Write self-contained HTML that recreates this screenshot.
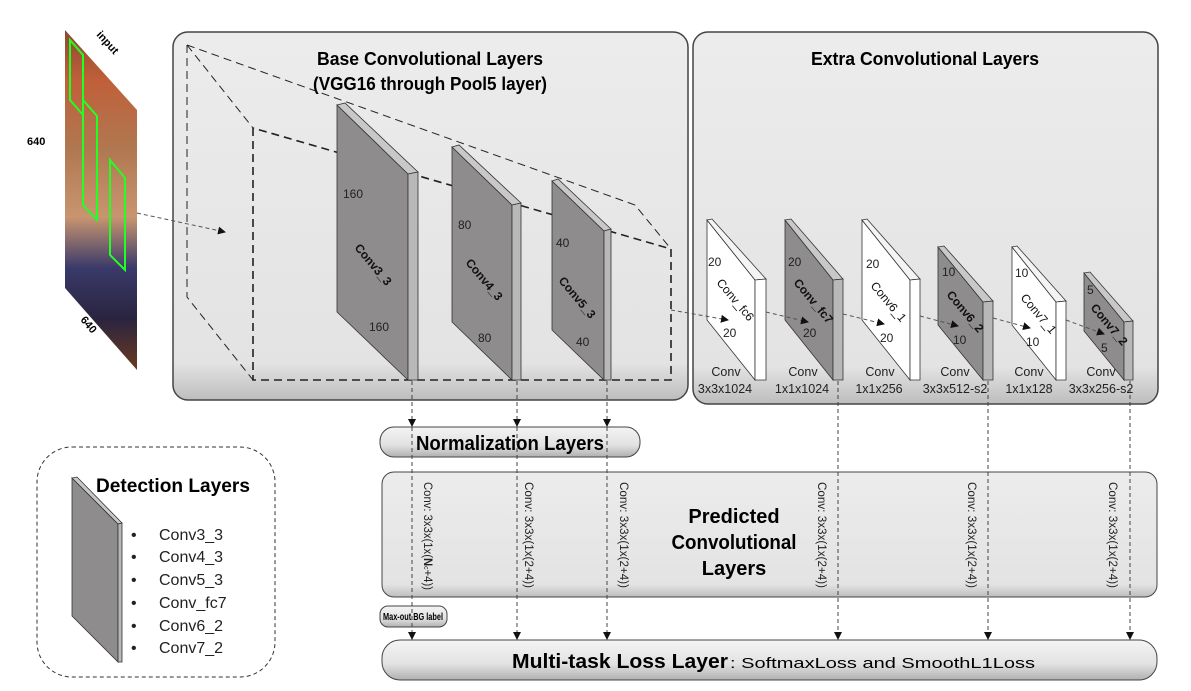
<!DOCTYPE html>
<html><head><meta charset="utf-8"><style>
html,body{margin:0;padding:0;background:#fff;}
svg{display:block;font-family:"Liberation Sans",sans-serif;}
.b{font-weight:bold;}
</style></head><body>
<svg width="1191" height="691" viewBox="0 0 1191 691" xmlns="http://www.w3.org/2000/svg">
<defs>
<linearGradient id="box" x1="0" y1="0" x2="0" y2="1">
<stop offset="0" stop-color="#ececec"/><stop offset="0.9" stop-color="#e3e3e3"/><stop offset="1" stop-color="#bdbdbd"/>
</linearGradient>
<linearGradient id="pill" x1="0" y1="0" x2="0" y2="1">
<stop offset="0" stop-color="#f4f4f4"/><stop offset="0.6" stop-color="#e2e2e2"/><stop offset="1" stop-color="#b0b0b0"/>
</linearGradient>
<linearGradient id="img" x1="0" y1="0" x2="0" y2="1">
<stop offset="0" stop-color="#8a4a30"/><stop offset="0.15" stop-color="#c0603a"/><stop offset="0.35" stop-color="#b07850"/>
<stop offset="0.55" stop-color="#c89570"/><stop offset="0.7" stop-color="#3a3a6a"/><stop offset="0.85" stop-color="#2a2440"/><stop offset="1" stop-color="#6a3a20"/>
</linearGradient>
<marker id="ar" markerWidth="8" markerHeight="8" refX="7" refY="4" orient="auto" markerUnits="userSpaceOnUse"><path d="M0,0 L8,4 L0,8 z" fill="#111"/></marker>
</defs>

<!-- input image -->
<polygon points="65,30 137,110 137,370 65,288" fill="url(#img)"/>
<polygon points="70,40 83,55 83,115 70,100" fill="none" stroke="#2f2" stroke-width="2"/>
<polygon points="83,100 97,116 97,220 83,205" fill="none" stroke="#2f2" stroke-width="2"/>
<polygon points="110,160 125,178 125,270 110,255" fill="none" stroke="#2f2" stroke-width="2"/>
<text x="0" y="0" font-size="11" class="b" transform="translate(96,35) rotate(48)">input</text>
<text x="27" y="145" font-size="11" class="b">640</text>
<text x="0" y="0" font-size="11" class="b" transform="translate(80,320) rotate(50)">640</text>

<!-- base box -->
<rect x="173" y="32" width="515" height="368" rx="15" fill="url(#box)" stroke="#444" stroke-width="1.5"/>
<text x="430" y="65" font-size="18" class="b" text-anchor="middle" textLength="226" lengthAdjust="spacingAndGlyphs">Base Convolutional Layers</text>
<text x="430" y="90" font-size="18" class="b" text-anchor="middle" textLength="234" lengthAdjust="spacingAndGlyphs">(VGG16 through Pool5 layer)</text>

<!-- extra box -->
<rect x="693" y="32" width="465" height="372" rx="15" fill="url(#box)" stroke="#444" stroke-width="1.5"/>
<text x="925" y="65" font-size="18" class="b" text-anchor="middle" textLength="228" lengthAdjust="spacingAndGlyphs">Extra Convolutional Layers</text>

<!-- dashed frustum -->
<g fill="none" stroke="#222" stroke-dasharray="8,5" stroke-width="1">
<polyline points="187,45 187,297 253,380"/>
<polyline points="187,45 253,128"/>
<polyline points="187,45 635,205 671,249"/>
<polyline points="253,128 253,380 671,380 671,249 253,128" stroke-width="1.6"/>
</g>
<line x1="137" y1="213" x2="225" y2="232" stroke="#555" stroke-dasharray="4,3" marker-end="url(#ar)"/>

<!-- base slabs -->
<g stroke="#333" stroke-width="0.8">
<polygon points="337,105 408,174 408,380 337,312" fill="#8e8c8c"/>
<polygon points="337,105 345,103 418,172 408,174" fill="#c8c8c8"/>
<polygon points="408,174 418,172 418,380 408,380" fill="#b8b8b8"/>
<polygon points="452,147 512,205 512,380 452,322" fill="#8e8c8c"/>
<polygon points="452,147 459,145 521,203 512,205" fill="#c8c8c8"/>
<polygon points="512,205 521,203 521,380 512,380" fill="#b8b8b8"/>
<polygon points="552,181 604,231 604,380 552,330" fill="#8e8c8c"/>
<polygon points="552,181 558,179 611,229 604,231" fill="#c8c8c8"/>
<polygon points="604,231 611,229 611,380 604,380" fill="#b8b8b8"/>
</g>
<g font-size="12" fill="#222">
<text x="343" y="198">160</text><text x="369" y="331">160</text>
<text x="458" y="229">80</text><text x="478" y="342">80</text>
<text x="556" y="247">40</text><text x="576" y="346">40</text>
</g>
<g font-size="12" class="b" fill="#111">
<text transform="translate(354,248) rotate(50)">Conv3_3</text>
<text transform="translate(465,263) rotate(50)">Conv4_3</text>
<text transform="translate(558,281) rotate(50)">Conv5_3</text>
</g>

<!-- extra slabs -->
<g stroke="#333" stroke-width="0.8">
<polygon points="707,220 755,280 755,380 707,320" fill="#fff"/>
<polygon points="707,220 712,219 766,279 755,280" fill="#f4f4f4"/>
<polygon points="755,280 766,279 766,380 755,380" fill="#fff"/>
<polygon points="785,220 833,280 833,380 785,320" fill="#8e8c8c"/>
<polygon points="785,220 791,219 843,279 833,280" fill="#c8c8c8"/>
<polygon points="833,280 843,279 843,380 833,380" fill="#b8b8b8"/>
<polygon points="862,220 910,280 910,380 862,320" fill="#fff"/>
<polygon points="862,220 867,219 920,279 910,280" fill="#f4f4f4"/>
<polygon points="910,280 920,279 920,380 910,380" fill="#fff"/>
<polygon points="938,247 983,302 983,380 938,325" fill="#8e8c8c"/>
<polygon points="938,247 944,246 993,301 983,302" fill="#c8c8c8"/>
<polygon points="983,302 993,301 993,380 983,380" fill="#b8b8b8"/>
<polygon points="1012,247 1056,302 1056,380 1012,325" fill="#fff"/>
<polygon points="1012,247 1017,246 1066,301 1056,302" fill="#f4f4f4"/>
<polygon points="1056,302 1066,301 1066,380 1056,380" fill="#fff"/>
<polygon points="1084,273 1124,322 1124,380 1084,331" fill="#8e8c8c"/>
<polygon points="1084,273 1090,272 1133,321 1124,322" fill="#c8c8c8"/>
<polygon points="1124,322 1133,321 1133,380 1124,380" fill="#b8b8b8"/>
</g>
<g font-size="12" fill="#222">
<text x="708" y="266">20</text><text x="723" y="337">20</text>
<text x="788" y="266">20</text><text x="803" y="337">20</text>
<text x="866" y="268">20</text><text x="880" y="342">20</text>
<text x="942" y="276">10</text><text x="953" y="344">10</text>
<text x="1015" y="277">10</text><text x="1026" y="346">10</text>
<text x="1087" y="294">5</text><text x="1101" y="352">5</text>
</g>
<g font-size="12" fill="#111">
<text transform="translate(716,283) rotate(50)">Conv_fc6</text>
<text transform="translate(793,283) rotate(50)" class="b">Conv_fc7</text>
<text transform="translate(870,286) rotate(50)">Conv6_1</text>
<text transform="translate(946,295) rotate(50)" class="b">Conv6_2</text>
<text transform="translate(1020,298) rotate(50)">Conv7_1</text>
<text transform="translate(1090,308) rotate(50)" class="b">Conv7_2</text>
</g>
<g fill="none" stroke="#555" stroke-dasharray="4,3">
<line x1="671" y1="310" x2="728" y2="320" marker-end="url(#ar)"/>
<line x1="766" y1="312" x2="808" y2="322" marker-end="url(#ar)"/>
<line x1="843" y1="314" x2="884" y2="324" marker-end="url(#ar)"/>
<line x1="920" y1="316" x2="958" y2="326" marker-end="url(#ar)"/>
<line x1="993" y1="318" x2="1030" y2="328" marker-end="url(#ar)"/>
<line x1="1066" y1="320" x2="1104" y2="334" marker-end="url(#ar)"/>
</g>
<g font-size="12.5" fill="#222" text-anchor="middle">
<text x="726" y="376">Conv</text><text x="725" y="393">3x3x1024</text>
<text x="803" y="376">Conv</text><text x="802" y="393">1x1x1024</text>
<text x="880" y="376">Conv</text><text x="879" y="393">1x1x256</text>
<text x="955" y="376">Conv</text><text x="955" y="393">3x3x512-s2</text>
<text x="1029" y="376">Conv</text><text x="1029" y="393">1x1x128</text>
<text x="1101" y="376">Conv</text><text x="1101" y="393">3x3x256-s2</text>
</g>

<!-- boxes bottom -->
<rect x="380" y="427" width="260" height="30" rx="14" fill="url(#pill)" stroke="#444"/>
<text x="510" y="450" font-size="20" class="b" text-anchor="middle" textLength="188" lengthAdjust="spacingAndGlyphs">Normalization Layers</text>
<rect x="382" y="472" width="775" height="125" rx="12" fill="url(#box)" stroke="#444"/>
<text x="734" y="523" font-size="20" class="b" text-anchor="middle">Predicted</text>
<text x="734" y="549" font-size="20" class="b" text-anchor="middle" textLength="125" lengthAdjust="spacingAndGlyphs">Convolutional</text>
<text x="734" y="575" font-size="20" class="b" text-anchor="middle">Layers</text>
<rect x="380" y="606" width="67" height="21" rx="8" fill="url(#pill)" stroke="#444"/>
<text x="413" y="620" font-size="10" class="b" text-anchor="middle" textLength="60" lengthAdjust="spacingAndGlyphs">Max-out BG label</text>
<rect x="382" y="640" width="775" height="40" rx="18" fill="url(#pill)" stroke="#444"/>
<text x="512" y="668" font-size="20" class="b" textLength="216" lengthAdjust="spacingAndGlyphs">Multi-task Loss Layer</text>
<text x="730" y="668" font-size="15" textLength="305" lengthAdjust="spacingAndGlyphs">: SoftmaxLoss and SmoothL1Loss</text>

<!-- vertical dashed connectors -->
<g stroke="#444" stroke-dasharray="4,3" fill="none">
<line x1="412" y1="381" x2="412" y2="426" marker-end="url(#ar)"/>
<line x1="517" y1="381" x2="517" y2="426" marker-end="url(#ar)"/>
<line x1="607" y1="381" x2="607" y2="426" marker-end="url(#ar)"/>
<line x1="412" y1="427" x2="412" y2="639" marker-end="url(#ar)"/>
<line x1="517" y1="427" x2="517" y2="639" marker-end="url(#ar)"/>
<line x1="607" y1="427" x2="607" y2="639" marker-end="url(#ar)"/>
<line x1="838" y1="381" x2="838" y2="639" marker-end="url(#ar)"/>
<line x1="988" y1="381" x2="988" y2="639" marker-end="url(#ar)"/>
<line x1="1130" y1="381" x2="1130" y2="639" marker-end="url(#ar)"/>
</g>
<g font-size="11.5" fill="#222">
<text transform="translate(424,482) rotate(90)" textLength="108" lengthAdjust="spacingAndGlyphs">Conv: 3x3x(1x(<tspan class="b">N</tspan><tspan font-size="7">c</tspan>+4))</text>
<text transform="translate(525,482) rotate(90)" textLength="106" lengthAdjust="spacingAndGlyphs">Conv: 3x3x(1x(2+4))</text>
<text transform="translate(620,482) rotate(90)" textLength="106" lengthAdjust="spacingAndGlyphs">Conv: 3x3x(1x(2+4))</text>
<text transform="translate(818,482) rotate(90)" textLength="106" lengthAdjust="spacingAndGlyphs">Conv: 3x3x(1x(2+4))</text>
<text transform="translate(968,482) rotate(90)" textLength="106" lengthAdjust="spacingAndGlyphs">Conv: 3x3x(1x(2+4))</text>
<text transform="translate(1109,482) rotate(90)" textLength="106" lengthAdjust="spacingAndGlyphs">Conv: 3x3x(1x(2+4))</text>
</g>

<!-- detection legend -->
<rect x="37" y="447" width="238" height="230" rx="35" fill="none" stroke="#333" stroke-dasharray="4,3"/>
<g stroke="#333" stroke-width="0.8">
<polygon points="72,478 118,524 118,662 72,616" fill="#8e8c8c"/>
<polygon points="72,478 77,477 122,523 118,524" fill="#c8c8c8"/>
<polygon points="118,524 122,523 122,662 118,662" fill="#b8b8b8"/>
</g>
<text x="96" y="492" font-size="19" class="b" textLength="154" lengthAdjust="spacingAndGlyphs">Detection  Layers</text>
<g font-size="16" fill="#222">
<text x="131" y="540">•</text><text x="159" y="540">Conv3_3</text>
<text x="131" y="562">•</text><text x="159" y="562">Conv4_3</text>
<text x="131" y="585">•</text><text x="159" y="585">Conv5_3</text>
<text x="131" y="608">•</text><text x="159" y="608">Conv_fc7</text>
<text x="131" y="631">•</text><text x="159" y="631">Conv6_2</text>
<text x="131" y="653">•</text><text x="159" y="653">Conv7_2</text>
</g>
</svg>
</body></html>
